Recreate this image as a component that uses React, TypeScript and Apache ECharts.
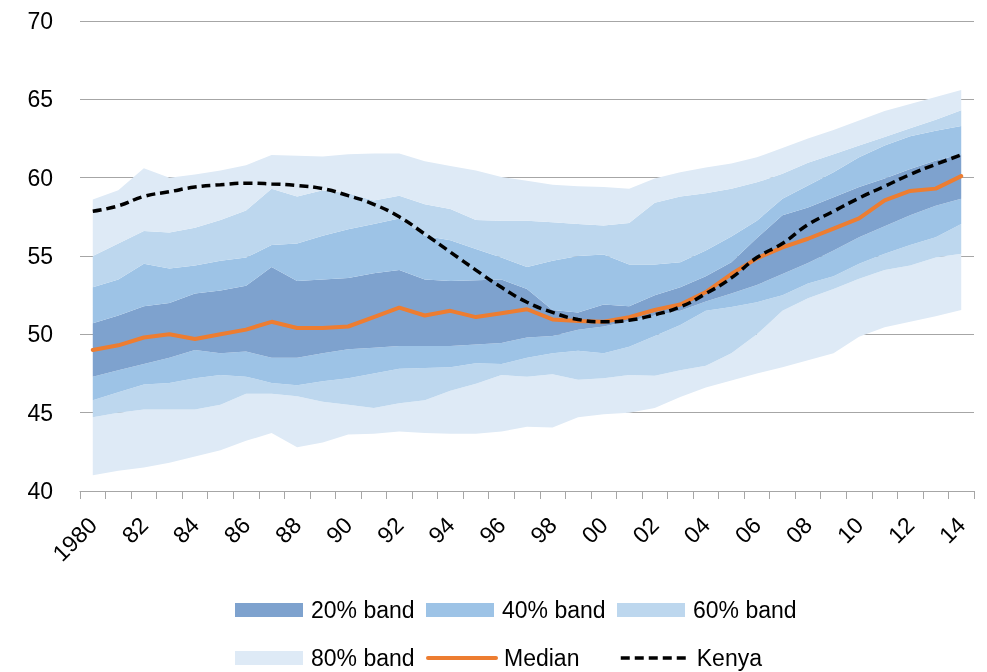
import React, { useEffect, useRef } from "react";
import * as echarts from "echarts";

const years = [
  "1980","1981","1982","1983","1984","1985","1986","1987","1988","1989",
  "1990","1991","1992","1993","1994","1995","1996","1997","1998","1999",
  "2000","2001","2002","2003","2004","2005","2006","2007","2008","2009",
  "2010","2011","2012","2013","2014",
];
const tickLabels = [
  "1980","81","82","83","84","85","86","87","88","89",
  "90","91","92","93","94","95","96","97","98","99",
  "00","01","02","03","04","05","06","07","08","09",
  "10","11","12","13","14",
];

// lower / upper bounds of each band
const lower80 = [41.0,41.3,41.5,41.8,42.2,42.6,43.2,43.7,42.8,43.1,43.6,43.65,43.8,43.7,43.65,43.65,43.8,44.1,44.05,44.7,44.9,45.0,45.3,46.0,46.6,47.05,47.5,47.9,48.35,48.8,49.85,50.45,50.8,51.15,51.55];
const lower60 = [44.7,45.0,45.2,45.2,45.2,45.5,46.2,46.2,46.05,45.7,45.5,45.3,45.6,45.8,46.4,46.85,47.4,47.3,47.45,47.1,47.2,47.4,47.35,47.7,48.0,48.8,50.0,51.5,52.3,52.9,53.55,54.1,54.4,54.9,55.15];
const lower40 = [45.8,46.3,46.8,46.9,47.2,47.4,47.3,46.9,46.75,47.0,47.2,47.5,47.8,47.85,47.9,48.15,48.1,48.5,48.8,48.95,48.8,49.2,49.9,50.6,51.5,51.75,52.05,52.5,53.25,53.7,54.5,55.15,55.7,56.2,57.05];
const lower20 = [47.3,47.7,48.1,48.5,49.0,48.8,48.9,48.5,48.5,48.8,49.05,49.15,49.25,49.25,49.25,49.35,49.45,49.8,49.9,50.3,50.5,50.85,51.2,51.5,52.1,52.6,53.15,53.85,54.55,55.35,56.2,56.9,57.6,58.2,58.65];
const upper20 = [50.7,51.2,51.8,52.0,52.6,52.8,53.1,54.3,53.4,53.5,53.6,53.9,54.1,53.5,53.4,53.45,53.5,52.9,51.55,51.4,51.9,51.8,52.5,53.0,53.7,54.6,56.15,57.6,58.1,58.75,59.4,59.95,60.55,61.1,61.5];
const upper40 = [53.0,53.5,54.5,54.2,54.4,54.7,54.9,55.7,55.8,56.3,56.7,57.05,57.4,56.3,56.0,55.45,54.9,54.3,54.7,55.0,55.1,54.45,54.45,54.6,55.35,56.25,57.25,58.65,59.5,60.35,61.3,62.05,62.65,63.0,63.3];
const upper60 = [55.0,55.8,56.6,56.5,56.8,57.3,57.9,59.3,58.8,59.2,59.0,58.55,58.85,58.3,58.0,57.3,57.25,57.25,57.15,57.05,56.95,57.1,58.4,58.8,59.0,59.3,59.7,60.25,60.95,61.5,62.05,62.6,63.15,63.7,64.3];
const upper80 = [58.6,59.2,60.6,60.0,60.2,60.45,60.8,61.45,61.4,61.35,61.5,61.55,61.55,61.05,60.75,60.45,60.05,59.8,59.55,59.45,59.4,59.3,59.95,60.35,60.65,60.9,61.3,61.9,62.5,63.05,63.65,64.25,64.7,65.15,65.6];
const median = [49.0,49.3,49.8,50.0,49.7,50.0,50.3,50.8,50.4,50.4,50.5,51.1,51.7,51.2,51.5,51.1,51.35,51.6,50.95,50.85,50.8,51.1,51.55,51.9,52.7,53.85,54.85,55.55,56.1,56.75,57.4,58.55,59.15,59.3,60.1];
const kenya = [57.85,58.2,58.8,59.1,59.4,59.55,59.65,59.6,59.5,59.3,58.85,58.3,57.5,56.4,55.25,54.1,53.0,52.05,51.4,50.95,50.8,50.9,51.25,51.75,52.6,53.6,54.9,55.8,57.0,57.85,58.7,59.45,60.2,60.85,61.45];

const C20 = "#7EA2CE";
const C40 = "#9DC3E6";
const C60 = "#BDD7EE";
const C80 = "#DEEAF6";

const FONT = "Liberation Sans";

export default function App() {
  const ref = useRef<HTMLDivElement>(null);
  useEffect(() => {
    if (!ref.current) return;
    const chart = echarts.init(ref.current, undefined, { renderer: "svg" });
    const diff = (a: number[], b: number[]) => a.map((v, i) => +(v - b[i]).toFixed(3));
    const band = (name: string, data: number[], color: string) => ({
      name,
      type: "line",
      stack: "fan",
      data,
      symbol: "none",
      showSymbol: false,
      silent: true,
      color,
      lineStyle: { width: 0, color },
      itemStyle: { color },
      areaStyle: { color, opacity: 1 },
    });
    const legendText = {
      fontFamily: FONT,
      fontSize: 23,
      color: "#000",
      lineHeight: 24,
      width: 106,
      padding: [0, 0, 0, 3],
    };
    chart.setOption({
      animation: false,
      grid: { left: 80, right: 13, top: 21, bottom: 181 },
      legend: [
        {
          left: 235,
          top: 598,
          padding: 0,
          itemWidth: 68,
          itemHeight: 14,
          itemGap: 9,
          textStyle: legendText,
          data: [
            { name: "20% band", icon: "rect" },
            { name: "40% band", icon: "rect" },
            { name: "60% band", icon: "rect" },
          ],
          selectedMode: false,
        },
        {
          left: 235,
          top: 646,
          padding: 0,
          itemWidth: 68,
          itemHeight: 14,
          itemGap: 9,
          textStyle: legendText,
          lineStyle: { width: 4 },
          data: [
            { name: "80% band", icon: "rect" },
            { name: "Median", itemStyle: { opacity: 0 } },
            { name: "Kenya", itemStyle: { opacity: 0 }, lineStyle: { width: 3.5 } },
          ],
          selectedMode: false,
        },
      ],
      xAxis: {
        type: "category",
        data: years,
        boundaryGap: true,
        axisLine: { lineStyle: { color: "#A6A6A6", width: 1 } },
        axisTick: { show: true, interval: 0, length: 8, lineStyle: { color: "#A6A6A6" } },
        axisLabel: {
          interval: 1,
          rotate: 45,
          margin: 30,
          fontFamily: FONT,
          fontSize: 23,
          color: "#000",
          formatter: (_v: string, i: number) => tickLabels[i],
        },
      },
      yAxis: {
        type: "value",
        min: 40,
        max: 70,
        interval: 5,
        axisLine: { show: false },
        axisTick: { show: false },
        splitLine: { lineStyle: { color: "#A6A6A6", width: 1 } },
        axisLabel: { margin: 27, fontFamily: FONT, fontSize: 23, color: "#000" },
      },
      series: [
        {
          name: "base",
          type: "line",
          stack: "fan",
          data: lower80,
          symbol: "none",
          silent: true,
          lineStyle: { width: 0, opacity: 0 },
        },
        band("80% band", diff(lower60, lower80), C80),
        band("60% band", diff(lower40, lower60), C60),
        band("40% band", diff(lower20, lower40), C40),
        band("20% band", diff(upper20, lower20), C20),
        band("40% band", diff(upper40, upper20), C40),
        band("60% band", diff(upper60, upper40), C60),
        band("80% band", diff(upper80, upper60), C80),
        {
          name: "Median",
          type: "line",
          data: median,
          symbol: "none",
          color: "#ED7D31",
          lineStyle: { color: "#ED7D31", width: 4, cap: "round" },
          z: 5,
        },
        {
          name: "Kenya",
          type: "line",
          data: kenya,
          symbol: "none",
          smooth: true,
          color: "#000",
          lineStyle: { color: "#000", width: 3.5, type: [9, 5] },
          z: 6,
        },
      ],
    });
    return () => chart.dispose();
  }, []);
  return (
    <div
      ref={ref}
      style={{ position: "fixed", left: 0, top: 0, width: 987, height: 672 }}
    />
  );
}
